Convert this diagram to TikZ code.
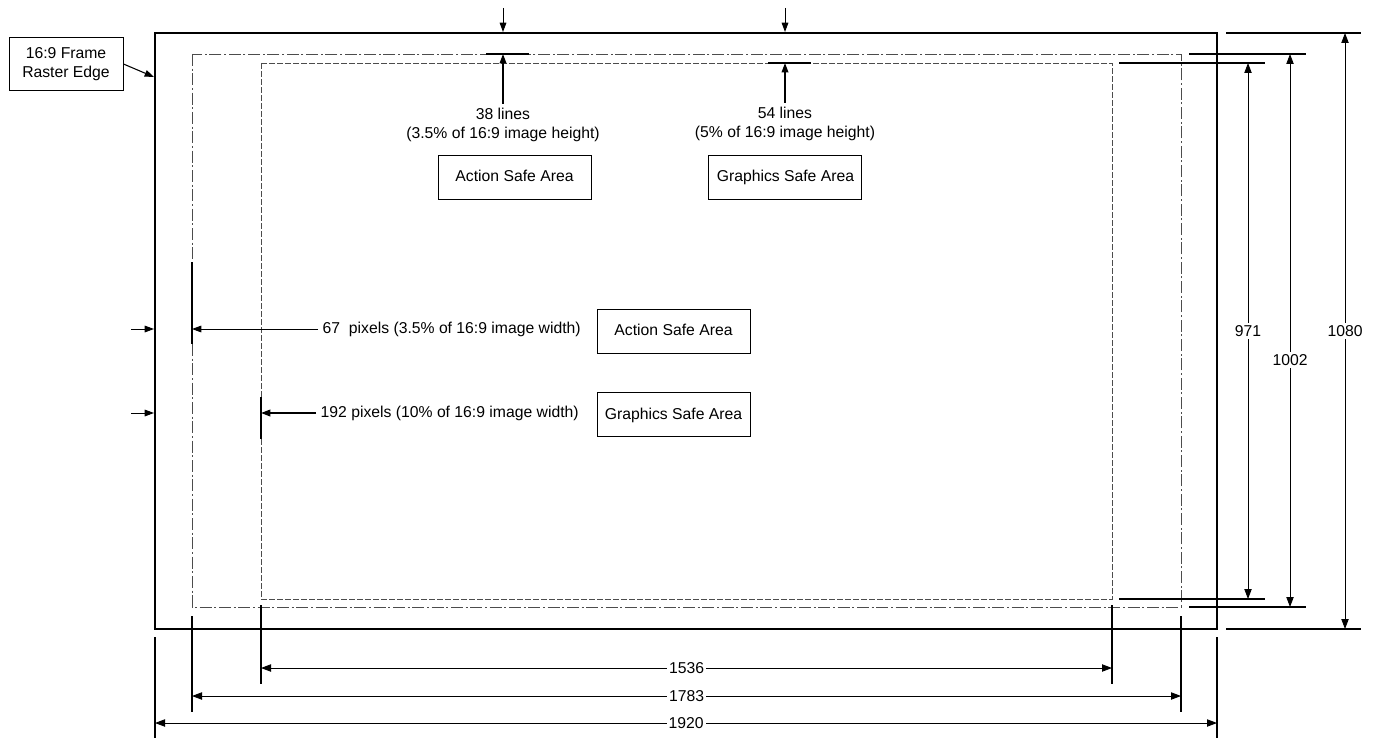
\documentclass[tikz,border=0pt]{standalone}
\usepackage{fontspec}
\setmainfont{Liberation Sans}
\usetikzlibrary{arrows.meta,positioning}

\begin{document}
\begin{tikzpicture}[x=0.75pt, y=-0.75pt, font=\fontsize{11.8}{13.8}\selectfont,
      tip/.style={-{Triangle[length=7pt,width=5pt]}},
      dim/.style={{Triangle[length=7.5pt,width=5.5pt]}-{Triangle[length=7.5pt,width=5.5pt]}, line width=0.65pt},
      ext/.style={line width=1.1pt},
      tick/.style={line width=1.5pt},
      areabox/.style={draw, line width=0.7pt, minimum width=114.75pt, minimum height=33pt, text height=1.75ex, text depth=.45ex},
      val/.style={fill=white, inner sep=1.5pt}]
      \useasboundingbox (0,0) rectangle (1373,738);
      \draw[line width=2pt] (155,33) rectangle (1217,629);
      \draw[gray!60!black, line width=0.65pt, dash pattern=on 9pt off 2pt on 1.5pt off 2pt] (192,54) rectangle (1181,607);
      \draw[gray!60!black, line width=0.65pt, dash pattern=on 4.5pt off 1.5pt] (261,63) rectangle (1112,599);

      \node[draw, line width=0.7pt, align=center, minimum width=85.5pt, minimum height=39.75pt] (raster) at (66,64) {16:9 Frame\\Raster Edge};
      \coordinate (rasterEdge) at (154,77);
      \draw[tip, line width=0.8pt] (raster.east) -- (rasterEdge);

      \foreach \x in {503,785} \draw[tip, line width=0.7pt] (\x,8) -- (\x,32);
      \node[align=center] (lines38) at (503,125) {38 lines\\(3.5\% of 16:9 image height)};
      \node[align=center] (lines54) at (785,124) {54 lines\\(5\% of 16:9 image height)};
      \coordinate (top38) at (503,54);
      \coordinate (top54) at (785,63);
      \draw[tick] (486,54) -- (529,54) (768,63) -- (811,63);
      \draw[tip, line width=1pt] (lines38) -- (top38);
      \draw[tip, line width=1pt] (lines54) -- (top54);
      \node[areabox] (action1) at (514.5,177) {Action Safe Area};
      \node[areabox, right=87.75pt of action1] (graphics1) {Graphics Safe Area};

      \node[areabox] (action2) at (673.5,331) {Action Safe Area};
      \node[areabox, below=29pt of action2] (graphics2) {Graphics Safe Area};
      \node[anchor=west] (pix67) at (318,329) {67\ \ pixels (3.5\% of 16:9 image width)};
      \node[anchor=west] (pix192) at (316,413) {192 pixels (10\% of 16:9 image width)};
      \coordinate (left67) at (192,329);
      \coordinate (left192) at (261,413);
      \draw[tick] (192,262) -- (192,344) (261,397) -- (261,439);
      \draw[tip, line width=0.7pt] (pix67) -- (left67);
      \draw[tip, line width=1.2pt] (pix192) -- (left192);
      \foreach \y in {329,413} \draw[tip, line width=0.7pt] (131,\y) -- (154,\y);

      \draw[ext] (1119,63) -- (1265,63) (1119,599) -- (1265,599)
                 (1189,54) -- (1306,54) (1189,607) -- (1306,607)
                 (1226,33) -- (1361,33) (1226,629) -- (1361,629);
      \draw[dim] (1248,63) -- (1248,599) node[val, midway] (h971) {971};
      \draw[dim] (1290,54) -- (1290,607);
      \node[val] (h1002) at (1290,360) {1002};
      \draw[dim] (1345,33) -- (1345,629) node[val, midway] (h1080) {1080};

      \foreach \a/\b/\t/\e/\y/\v in {261/1112/605/684/668/1536, 192/1181/616/712/696/1783, 155/1217/637/738/723/1920} {
        \draw[ext] (\a,\t) -- (\a,\e) (\b,\t) -- (\b,\e);
        \draw[dim] (\a,\y) -- (\b,\y) node[val, midway] (w\v) {\v};
      }
\end{tikzpicture}
\end{document}
